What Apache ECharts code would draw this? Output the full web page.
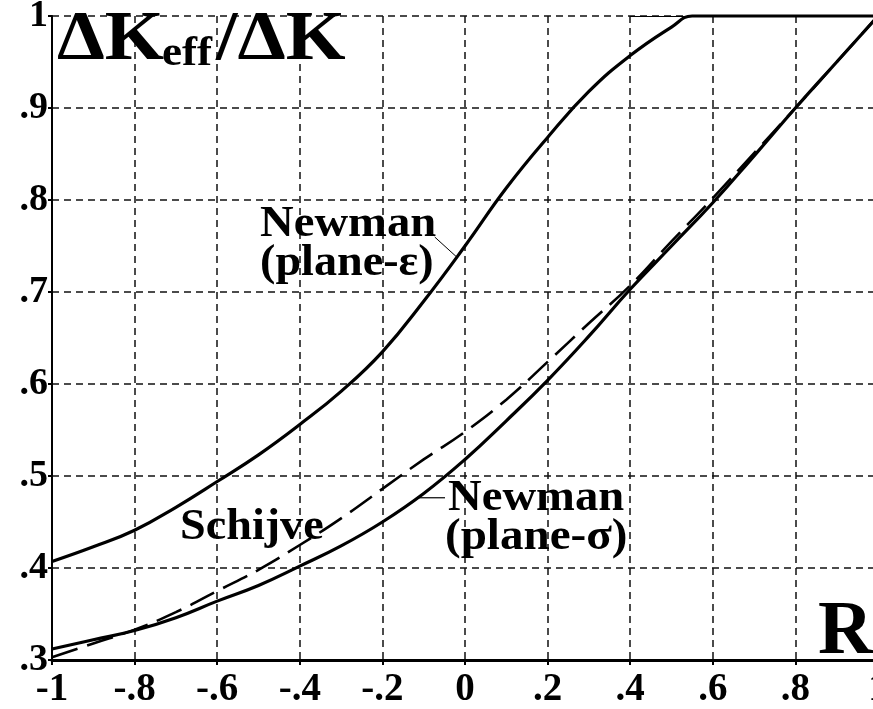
<!DOCTYPE html>
<html>
<head>
<meta charset="utf-8">
<script src="https://cdn.jsdelivr.net/npm/echarts@6/dist/echarts.min.js"></script>
<style>
  html, body { margin: 0; padding: 0; background: #fff; }
  #chart { width: 873px; height: 709px; }
</style>
</head>
<body>
<div id="chart"></div>
<script>
// Effective stress-intensity ratio versus load ratio R
const xTicks = ['-1', '-.8', '-.6', '-.4', '-.2', '0', '.2', '.4', '.6', '.8', '1'];
const yTicks = ['.3', '.4', '.5', '.6', '.7', '.8', '.9', '1'];

// Newman, plane strain
const epsR = [-1, -0.9, -0.8, -0.7, -0.6, -0.5, -0.4, -0.3, -0.2, -0.1, 0, 0.1, 0.2, 0.3, 0.4, 0.5, 0.55, 0.6, 0.8, 1];
const epsK = [0.407, 0.423, 0.441, 0.466, 0.494, 0.523, 0.556, 0.592, 0.635, 0.69, 0.75, 0.813, 0.868, 0.918, 0.957, 0.988, 1, 1, 1, 1];

// Newman, plane stress
const sigR = [-1, -0.9, -0.8, -0.7, -0.6, -0.5, -0.4, -0.3, -0.2, -0.1, 0, 0.1, 0.2, 0.3, 0.4, 0.5, 0.6, 0.7, 0.8, 0.9, 1];
const sigK = [0.312, 0.322, 0.332, 0.346, 0.364, 0.381, 0.402, 0.424, 0.45, 0.481, 0.518, 0.56, 0.604, 0.652, 0.703, 0.75, 0.797, 0.848, 0.9, 0.95, 1];

// Schijve
const schR = [-1, -0.9, -0.8, -0.7, -0.6, -0.5, -0.4, -0.3, -0.2, -0.1, 0, 0.1, 0.2, 0.3, 0.4, 0.5, 0.6, 0.7, 0.8, 0.9, 1];
const schK = [0.303, 0.318, 0.333, 0.352, 0.375, 0.398, 0.425, 0.454, 0.486, 0.518, 0.548, 0.583, 0.624, 0.666, 0.707, 0.755, 0.802, 0.851, 0.9, 0.95, 1];

const FONT = "'Liberation Serif', 'Times New Roman', serif";
const zip = (xs, ys) => xs.map((x, i) => [x, ys[i]]);

// linear lookup along a drawn curve, used to anchor the leader lines
function onCurve(xs, ys, x) {
  for (let i = 0; i < xs.length - 1; i++) {
    if (x >= xs[i] && x <= xs[i + 1]) {
      const t = (x - xs[i]) / (xs[i + 1] - xs[i]);
      return ys[i] + t * (ys[i + 1] - ys[i]);
    }
  }
  return ys[ys.length - 1];
}

const chart = echarts.init(document.getElementById('chart'), null, { renderer: 'canvas' });

const curveStyle = { color: '#000', width: 3.2 };

chart.setOption({
  animation: false,
  backgroundColor: '#fff',
  grid: { left: 52, top: 16, width: 826, height: 644, containLabel: false, outerBoundsMode: 'none' },
  xAxis: {
    type: 'value', min: -1, max: 1, interval: 0.2,
    axisLine: { show: true, onZero: false, lineStyle: { color: '#000', width: 3 } },
    axisTick: { show: true, length: 5, lineStyle: { color: '#000', width: 2 } },
    axisLabel: {
      margin: 10, color: '#000', fontFamily: FONT, fontWeight: 'bold', fontSize: 39,
      showMinLabel: true, showMaxLabel: true,
      formatter: v => xTicks[Math.round((v + 1) / 0.2)]
    },
    splitLine: { show: true, lineStyle: { color: '#111', width: 1.5, type: [7, 5] } }
  },
  yAxis: {
    type: 'value', min: 0.3, max: 1, interval: 0.1,
    axisLine: { show: true, onZero: false, lineStyle: { color: '#000', width: 2 } },
    axisTick: { show: true, length: 4, lineStyle: { color: '#000', width: 2 } },
    axisLabel: {
      margin: 4, color: '#000', fontFamily: FONT, fontWeight: 'bold', fontSize: 38,
      formatter: v => yTicks[Math.round((v - 0.3) / 0.1)]
    },
    splitLine: { show: true, lineStyle: { color: '#111', width: 1.5, type: [7, 5] } }
  },
  series: [
    {
      name: 'Newman (plane-ε)', type: 'line', data: zip(epsR, epsK),
      showSymbol: false, smooth: 0.45, clip: false,
      lineStyle: curveStyle,
      markLine: {
        silent: true, symbol: 'none', label: { show: false },
        lineStyle: { color: '#000', width: 1.2, type: 'solid' },
        data: [[{ coord: [0.4, 1] }, { coord: [1, 1] }]]
      }
    },
    {
      name: 'Newman (plane-σ)', type: 'line', data: zip(sigR, sigK),
      showSymbol: false, smooth: 0.45, clip: false,
      lineStyle: curveStyle
    },
    {
      name: 'Schijve', type: 'line', data: zip(schR, schK),
      showSymbol: false, smooth: 0.45, clip: false,
      lineStyle: { color: '#000', width: 2.6, type: [27, 10] }
    }
  ]
});

// Titles and curve annotations
const px = (x, y) => chart.convertToPixel({ gridIndex: 0 }, [x, y]);
const pEps = px(-0.02, onCurve(epsR, epsK, -0.02));
const pSig = px(-0.115, onCurve(sigR, sigK, -0.115));

const txt = (text, x, y, size, sx) => ({
  type: 'text', x: x, y: y, scaleX: sx || 1, silent: true,
  style: {
    text: text, fill: '#000', font: 'bold ' + size + 'px ' + FONT,
    align: 'left', verticalAlign: 'middle'
  }
});

chart.setOption({
  graphic: [
    txt('ΔK', 57, 41, 70, 1.09),
    txt('eff', 162, 54, 43, 1.05),
    txt('/ΔK', 216, 41, 70, 1.1),
    txt('R', 818, 633, 76),
    txt('Newman', 260, 225, 44, 1.06),
    txt('(plane-ε)', 260, 264, 44, 1.05),
    txt('Schijve', 180, 528, 44, 1.05),
    txt('Newman', 448, 499, 44, 1.06),
    txt('(plane-σ)', 445, 538, 44, 1.07),
    {
      type: 'line', silent: true,
      shape: { x1: pEps[0], y1: pEps[1], x2: pEps[0] - 22, y2: pEps[1] - 20 },
      style: { stroke: '#000', lineWidth: 1 }
    },
    {
      type: 'line', silent: true,
      shape: { x1: pSig[0], y1: pSig[1], x2: 445, y2: pSig[1] },
      style: { stroke: '#000', lineWidth: 1.2 }
    }
  ]
});
</script>
</body>
</html>
